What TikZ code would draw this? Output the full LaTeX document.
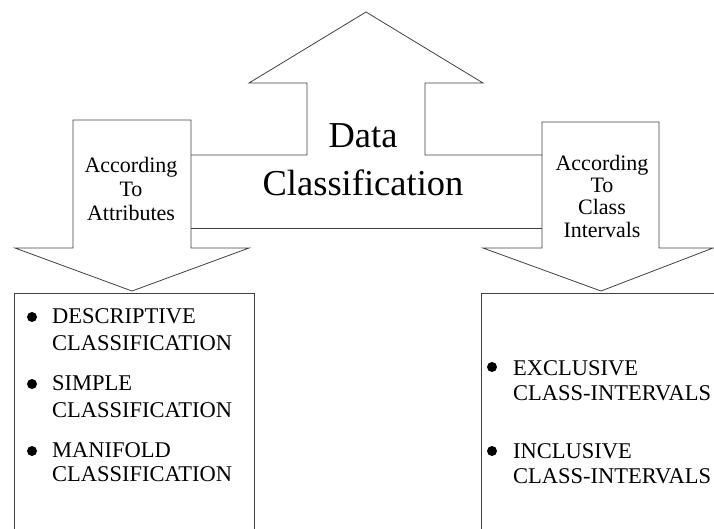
\documentclass[tikz,border=0pt]{standalone}
\usepackage{fontspec}
\setmainfont{Liberation Serif}
\usepackage{tikz}
\usetikzlibrary{calc}
\tikzset{
  outline/.style={draw=black!75, line width=0.8pt},
  titletext/.style={font=\fontsize{36.5}{44}\selectfont, inner sep=0pt, anchor=base},
  armtext/.style={font=\fontsize{22}{26}\selectfont, inner sep=0pt, anchor=base},
  itemtext/.style={font=\fontsize{22.5}{27}\selectfont, inner sep=0pt, anchor=base west},
  itemdot/.style={circle, fill=black, inner sep=0pt, minimum size=10pt}
}

\begin{document}
\begin{tikzpicture}[x=1pt, y=-1pt]
			%%%%% START %%%%%
			\clip (0, 0) rectangle (714, 528);
			
			% big up arrow
			\draw[outline] (191, 155) -- (307, 155) -- (307, 83) -- (249, 83) -- (366, 12)
			               -- (483, 83) -- (425, 83) -- (425, 155) -- (542, 155);
			\draw[outline] (191, 228) -- (542, 228);
			
			\node[titletext] (data) at (363, 147) {Data};
			\node[titletext] (classification) at (363, 195) {Classification};
			
			% left down arrow
			\draw[outline] (73, 120) -- (191, 120) -- (191, 248) -- (249, 248) -- (132, 291)
			               -- (15, 248) -- (73, 248) -- cycle;
			\node[armtext] (accL) at (131, 172) {According};
			\node[armtext] (toL) at (131, 196) {To};
			\node[armtext] (attr) at (131, 220) {Attributes};
			
			% right down arrow
			\draw[outline] (542, 122) -- (659, 122) -- (659, 248) -- (713, 248) -- (601, 291)
			               -- (483, 248) -- (542, 248) -- cycle;
			\node[armtext] (accR) at (602, 170) {According};
			\node[armtext] (toR) at (602, 192) {To};
			\node[armtext] (classR) at (602, 214) {Class};
			\node[armtext] (intR) at (602, 237) {Intervals};
			
			% left box
			\draw[outline] (14, 530) -- (14, 293) -- (254, 293) -- (254, 530);
			\node[itemdot] (dotA) at (32, 317) {};
			\node[itemtext] (descA) at (52, 323) {DESCRIPTIVE};
			\node[itemtext] (descB) at (52, 350) {CLASSIFICATION};
			\node[itemdot] (dotB) at (32, 384) {};
			\node[itemtext] (simpA) at (52, 390) {SIMPLE};
			\node[itemtext] (simpB) at (52, 417) {CLASSIFICATION};
			\node[itemdot] (dotC) at (32, 451) {};
			\node[itemtext] (maniA) at (52, 457) {MANIFOLD};
			\node[itemtext] (maniB) at (52, 481) {CLASSIFICATION};
			
			% right box
			\draw[outline] (481, 530) -- (481, 293) -- (716, 293);
			\node[itemdot] (dotD) at (492, 367) {};
			\node[itemtext] (exclA) at (513, 375) {EXCLUSIVE};
			\node[itemtext] (exclB) at (513, 400) {CLASS-INTERVALS};
			\node[itemdot] (dotE) at (492, 451) {};
			\node[itemtext] (inclA) at (513, 458) {INCLUSIVE};
			\node[itemtext] (inclB) at (513, 483) {CLASS-INTERVALS};
			
			%%%%% END %%%%%
\end{tikzpicture}
\end{document}
